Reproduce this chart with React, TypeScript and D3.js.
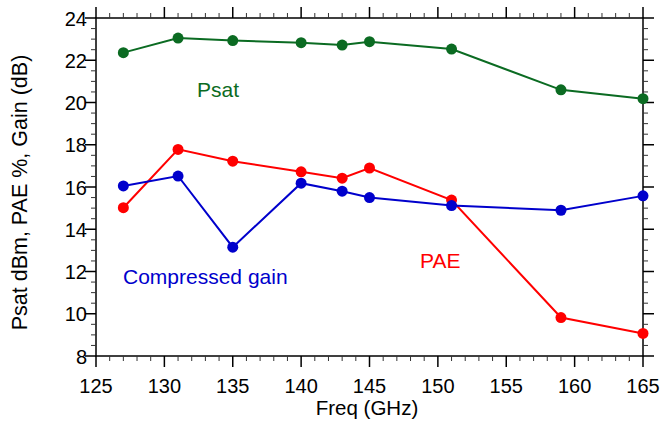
import React from "react";
import * as d3 from "d3";

const width = 660;
const height = 421;
const margin = { top: 18, right: 17, bottom: 65, left: 96 };

// frequencies (GHz)
const freqs = [127, 131, 135, 140, 143, 145, 151, 159, 165];
const psat = [22.36, 23.05, 22.93, 22.83, 22.72, 22.88, 22.53, 20.6, 20.18];
const pae = [15.02, 17.78, 17.22, 16.72, 16.42, 16.9, 15.38, 9.82, 9.07];
const gain = [16.05, 16.52, 13.15, 16.18, 15.8, 15.5, 15.12, 14.9, 15.58];

const xTicks = [125, 130, 135, 140, 145, 150, 155, 160, 165];
const yTicks = [8, 10, 12, 14, 16, 18, 20, 22, 24];

const series = [
  { name: "Psat", values: psat, color: "#0b6b22", label: "Psat", lx: 197, ly: 97 },
  { name: "PAE", values: pae, color: "#ff0000", label: "PAE", lx: 420, ly: 268 },
  { name: "Gain", values: gain, color: "#0000cc", label: "Compressed gain", lx: 123, ly: 284 }
];

const font = "'Liberation Sans', Arial, sans-serif";

export default function App() {
  const x = d3
    .scaleLinear()
    .domain([125, 165])
    .range([margin.left, width - margin.right]);
  const y = d3
    .scaleLinear()
    .domain([8, 24])
    .range([height - margin.bottom, margin.top]);

  const line = d3
    .line<[number, number]>()
    .x(d => x(d[0]))
    .y(d => y(d[1]));

  const x0 = x.range()[0];
  const x1 = x.range()[1];
  const y0 = y.range()[0];
  const y1 = y.range()[1];

  const xMinor = d3.range(125, 165.01, 1);
  const yMinor = d3.range(8, 24.01, 0.5);

  return (
    <svg
      width={width}
      height={height}
      style={{ position: "absolute", left: 0, top: 0, background: "#fff" }}
      fontFamily={font}
    >
      {/* frame */}
      <rect x={x0} y={y1} width={x1 - x0} height={y0 - y1} fill="none" stroke="#000" strokeWidth={1.5} />

      {/* x ticks, bottom and top, outward */}
      {xMinor.map((v, i) => {
        const major = v % 5 === 0;
        const len = major ? 11 : 5;
        return (
          <g key={"xt" + i} stroke={major ? "#000" : "#333"} strokeWidth={major ? 1.5 : 1}>
            <line x1={x(v)} x2={x(v)} y1={y0} y2={y0 + len} />
            <line x1={x(v)} x2={x(v)} y1={y1} y2={y1 - len} />
          </g>
        );
      })}
      {/* y ticks, left and right, outward */}
      {yMinor.map((v, i) => {
        const major = v % 2 === 0;
        const len = major ? 11 : 5;
        return (
          <g key={"yt" + i} stroke={major ? "#000" : "#333"} strokeWidth={major ? 1.5 : 1}>
            <line x1={x0} x2={x0 - len} y1={y(v)} y2={y(v)} />
            <line x1={x1} x2={x1 + len} y1={y(v)} y2={y(v)} />
          </g>
        );
      })}

      {xTicks.map(v => (
        <text key={"xl" + v} x={x(v)} y={y0 + 37} textAnchor="middle" fontSize={20}>
          {v}
        </text>
      ))}
      {yTicks.map(v => (
        <text key={"yl" + v} x={x0 - 9} y={y(v) + 7.5} textAnchor="end" fontSize={20}>
          {v}
        </text>
      ))}

      <text x={367} y={415} textAnchor="middle" fontSize={20.5}>
        Freq (GHz)
      </text>
      <text
        transform={`translate(27, 192.5) rotate(-90)`}
        textAnchor="middle"
        fontSize={21.5}
      >
        Psat dBm, PAE %, Gain (dB)
      </text>

      {series.map(s => {
        const pts = freqs.map((f, i) => [f, s.values[i]] as [number, number]);
        return (
          <g key={s.name}>
            <path d={line(pts) || ""} fill="none" stroke={s.color} strokeWidth={2} />
            {pts.map((p, i) => (
              <circle key={i} cx={x(p[0])} cy={y(p[1])} r={5.5} fill={s.color} />
            ))}
            <text x={s.lx} y={s.ly} fontSize={21} fill={s.color}>
              {s.label}
            </text>
          </g>
        );
      })}
    </svg>
  );
}
